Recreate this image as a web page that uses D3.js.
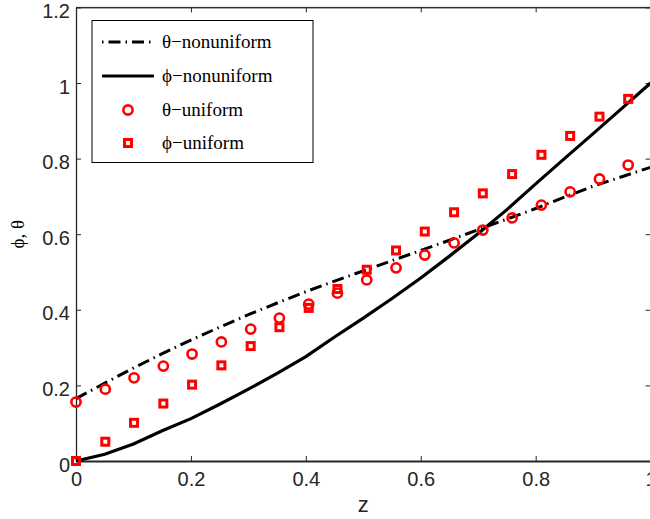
<!DOCTYPE html>
<html>
<head>
<meta charset="utf-8">
<script src="https://cdn.jsdelivr.net/npm/d3@7"></script>
<style>
  html, body { margin: 0; padding: 0; background: #fff; }
  svg { display: block; }
</style>
</head>
<body>
<svg id="chart" width="650" height="519"></svg>
<script>
// ---- data ----
const zLine = [0, 0.05, 0.1, 0.15, 0.2, 0.25, 0.3, 0.35, 0.4, 0.45, 0.5, 0.55, 0.6, 0.65, 0.7, 0.75, 0.8, 0.85, 0.9, 0.95, 1.0];
const thetaNonuniform = [0.165, 0.206, 0.246, 0.284, 0.320, 0.354, 0.387, 0.418, 0.448, 0.476, 0.503, 0.530, 0.557, 0.584, 0.612, 0.640, 0.668, 0.698, 0.727, 0.752, 0.777];
const phiNonuniform = [0, 0.018, 0.045, 0.080, 0.112, 0.150, 0.190, 0.232, 0.276, 0.328, 0.378, 0.430, 0.484, 0.542, 0.602, 0.665, 0.733, 0.800, 0.866, 0.933, 1.0];

const zPts = [0, 0.051, 0.101, 0.152, 0.202, 0.253, 0.304, 0.354, 0.405, 0.455, 0.506, 0.557, 0.607, 0.658, 0.708, 0.759, 0.810, 0.860, 0.911, 0.961];
const thetaUniform = [0.156, 0.19, 0.22, 0.251, 0.283, 0.315, 0.349, 0.378, 0.415, 0.444, 0.479, 0.511, 0.545, 0.577, 0.611, 0.643, 0.677, 0.712, 0.746, 0.783];
const phiUniform = [0, 0.051, 0.101, 0.152, 0.202, 0.253, 0.304, 0.354, 0.405, 0.455, 0.506, 0.557, 0.607, 0.658, 0.708, 0.759, 0.810, 0.860, 0.911, 0.958];

const xTicks = [0, 0.2, 0.4, 0.6, 0.8, 1];
const xTickLabels = ["0", "0.2", "0.4", "0.6", "0.8", "1"];
const yTicks = [0, 0.2, 0.4, 0.6, 0.8, 1, 1.2];
const yTickLabels = ["0", "0.2", "0.4", "0.6", "0.8", "1", "1.2"];

const legendLabels = ["θ−nonuniform", "ϕ−nonuniform", "θ−uniform", "ϕ−uniform"];
const xLabel = "z";
const yLabel = "ϕ, θ";

// ---- layout ----
const L = 76, R = 650.6, T = 7.4, B = 461;
const svg = d3.select("#chart");
const x = d3.scaleLinear().domain([0, 1]).range([L, R]);
const y = d3.scaleLinear().domain([0, 1.2]).range([B, T]);

const tickFont = "'Liberation Sans', Arial, Helvetica, sans-serif";
const textColor = "#262626";

// box lines
svg.append("line").attr("x1", L).attr("x2", R).attr("y1", T).attr("y2", T).attr("stroke", "#262626").attr("stroke-width", 1);
svg.append("line").attr("x1", R).attr("x2", R).attr("y1", T).attr("y2", B).attr("stroke", "#262626").attr("stroke-width", 1);

// axes via d3
const fmtX = d => xTickLabels[xTicks.indexOf(d)];
const fmtY = d => yTickLabels[yTicks.indexOf(d)];

const gx = svg.append("g").attr("transform", `translate(0,${B})`)
  .call(d3.axisBottom(x).tickValues(xTicks).tickFormat(fmtX).tickSizeInner(-5).tickSizeOuter(0).tickPadding(11));
const gy = svg.append("g").attr("transform", `translate(${L},0)`)
  .call(d3.axisLeft(y).tickValues(yTicks).tickFormat(fmtY).tickSizeInner(-5).tickSizeOuter(0).tickPadding(6));
const gxTop = svg.append("g").attr("transform", `translate(0,${T})`)
  .call(d3.axisTop(x).tickValues(xTicks).tickFormat("").tickSizeInner(-5).tickSizeOuter(0));
const gyRight = svg.append("g").attr("transform", `translate(${R},0)`)
  .call(d3.axisRight(y).tickValues(yTicks).tickFormat("").tickSizeInner(-5).tickSizeOuter(0));

[gx, gy, gxTop, gyRight].forEach(g => {
  g.selectAll(".domain").attr("stroke", "#262626");
  g.selectAll(".tick line").attr("stroke", "#262626").attr("stroke-width", 1);
  g.selectAll("text").attr("font-family", tickFont).attr("font-size", 20).attr("fill", textColor);
});
gy.selectAll("text").attr("dy", "0.5em");
gx.select(".domain").attr("stroke-width", 2);
gy.select(".domain").attr("stroke-width", 1.3);
gxTop.select(".domain").attr("stroke-width", 1);
gyRight.select(".domain").attr("stroke-width", 1);

// axis labels
svg.append("text").attr("x", (L + R) / 2).attr("y", 512).attr("text-anchor", "middle")
  .attr("font-family", tickFont).attr("font-size", 22).attr("fill", textColor).text(xLabel);
svg.append("text").attr("transform", `translate(24,${(T + B) / 2}) rotate(-90)`).attr("text-anchor", "middle")
  .attr("font-family", "'Liberation Serif', 'Times New Roman', serif").attr("font-size", 19).attr("fill", "#000").text(yLabel);

// lines
const line = d3.line().x(d => x(d[0])).y(d => y(d[1]));

svg.append("path").datum(zLine.map((z, i) => [z, thetaNonuniform[i]]))
  .attr("d", line).attr("fill", "none").attr("stroke", "#000").attr("stroke-width", 3)
  .attr("stroke-dasharray", "12,5,1.5,5");
svg.append("path").datum(zLine.map((z, i) => [z, phiNonuniform[i]]))
  .attr("d", line).attr("fill", "none").attr("stroke", "#000").attr("stroke-width", 3.2);

// markers
const red = "#ff0000";
svg.append("g").selectAll("circle").data(zPts.map((z, i) => [z, thetaUniform[i]])).join("circle")
  .attr("cx", d => x(d[0])).attr("cy", d => y(d[1])).attr("r", 4.6)
  .attr("fill", "none").attr("stroke", red).attr("stroke-width", 2.6);
const sq = 7;
svg.append("g").selectAll("rect").data(zPts.map((z, i) => [z, phiUniform[i]])).join("rect")
  .attr("x", d => x(d[0]) - sq / 2).attr("y", d => y(d[1]) - sq / 2).attr("width", sq).attr("height", sq)
  .attr("fill", "none").attr("stroke", red).attr("stroke-width", 3);

// legend
const lg = svg.append("g");
lg.append("rect").attr("x", 92).attr("y", 20.5).attr("width", 221).attr("height", 142)
  .attr("fill", "#fff").attr("stroke", "#000").attr("stroke-width", 1);
const rowY = [42, 76, 110, 143];
const serif = "'Liberation Serif', 'Times New Roman', serif";
lg.append("line").attr("x1", 102).attr("x2", 154).attr("y1", rowY[0]).attr("y2", rowY[0])
  .attr("stroke", "#000").attr("stroke-width", 3).attr("stroke-dasharray", "1.5,5,12,5");
lg.append("line").attr("x1", 102).attr("x2", 154).attr("y1", rowY[1]).attr("y2", rowY[1])
  .attr("stroke", "#000").attr("stroke-width", 3.2);
lg.append("circle").attr("cx", 128).attr("cy", rowY[2]).attr("r", 4.6)
  .attr("fill", "none").attr("stroke", red).attr("stroke-width", 2.6);
lg.append("rect").attr("x", 128 - sq / 2).attr("y", rowY[3] - sq / 2).attr("width", sq).attr("height", sq)
  .attr("fill", "none").attr("stroke", red).attr("stroke-width", 3);
lg.selectAll("text.leg").data(legendLabels).join("text").attr("class", "leg")
  .attr("x", 162).attr("y", (d, i) => rowY[i] + 6).attr("font-family", serif).attr("font-size", 19)
  .attr("fill", "#000").text(d => d);
</script>
</body>
</html>
